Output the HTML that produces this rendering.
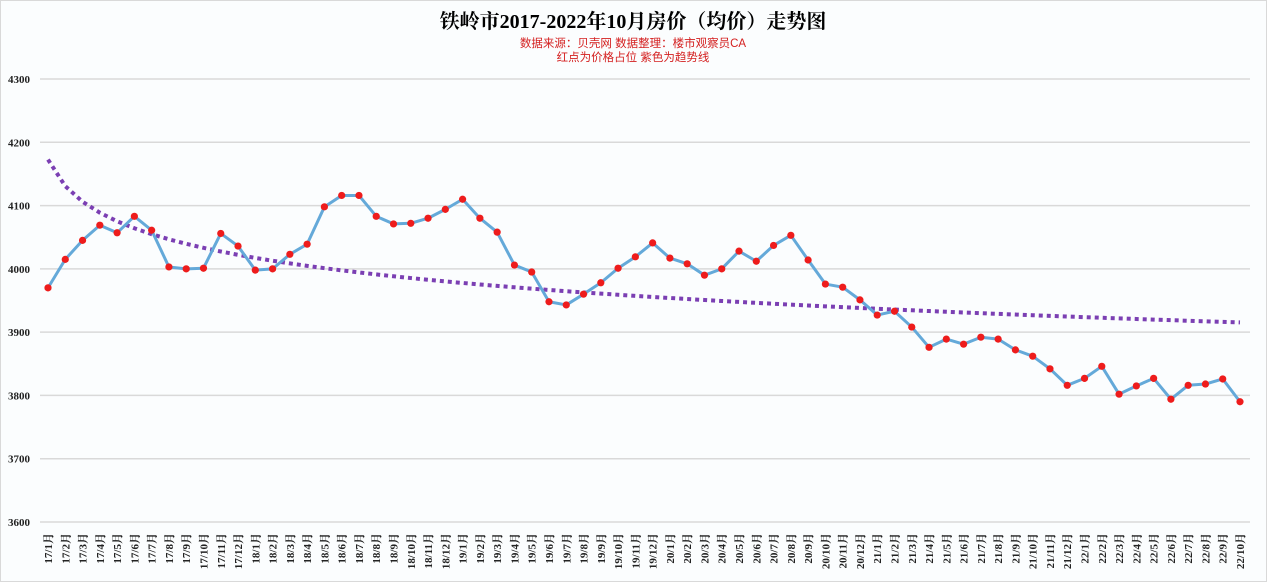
<!DOCTYPE html>
<html><head><meta charset="utf-8"><style>
html,body{margin:0;padding:0;background:#fff}
svg{display:block}
</style></head><body>
<svg id="chart" width="1267" height="582" xmlns="http://www.w3.org/2000/svg">
<rect x="0.5" y="0.5" width="1266" height="581" fill="#fbfdfe" stroke="#d9d9d9"/>
<text x="633" y="28" text-anchor="middle" font-family="'Liberation Serif','Noto Serif CJK SC',serif" font-weight="bold" font-size="20" fill="#000">铁岭市2017-2022年10月房价（均价）走势图</text>
<text x="633" y="47" text-anchor="middle" font-family="'Liberation Sans','Noto Sans CJK SC',sans-serif" font-size="11.5" fill="#d42020">数据来源：贝壳网  数据整理：楼市观察员CA</text>
<text x="633" y="61" text-anchor="middle" font-family="'Liberation Sans','Noto Sans CJK SC',sans-serif" font-size="11.5" fill="#d42020">红点为价格占位   紫色为趋势线</text>
<g id="grid"></g><g id="ylab"></g><g id="xlab"></g><g id="series"></g>
</svg>
<script>
const categories = [];
const years = [17,18,19,20,21,22];
const values = [3970,4015,4045,4069,4057,4083,4061,4003,4000,4001,4056,4036,
3998,4000,4023,4039,4098,4116,4116,4083,4071,4072,4080,4094,
4110,4080,4058,4006,3995,3948,3943,3960,3978,4001,4019,4041,
4017,4008,3990,4000,4028,4012,4037,4053,4014,3976,3971,3951,
3927,3933,3908,3876,3889,3881,3892,3889,3872,3862,3842,3816,
3827,3846,3802,3815,3827,3794,3816,3818,3826,3790];
const yTicks = [3600,3700,3800,3900,4000,4100,4200,4300];
for (const y of years) for (let m=1;m<=12;m++){ if(y===22&&m>10)break; categories.push(y+'/'+m+'月'); }

const NS='http://www.w3.org/2000/svg';
const x0=48,x1=1240,yMin=3600,yMax=4300,py0=522,py1=79;
const xs=i=>x0+(x1-x0)*i/(categories.length-1);
const ys=v=>py0-(v-yMin)/(yMax-yMin)*(py0-py1);
function mk(tag,attrs,parent){const e=document.createElementNS(NS,tag);for(const k in attrs)e.setAttribute(k,attrs[k]);parent.appendChild(e);return e;}
const grid=document.getElementById('grid'),ylab=document.getElementById('ylab'),xlab=document.getElementById('xlab'),ser=document.getElementById('series');
yTicks.forEach(t=>{
  const l=mk('line',{x1:40,x2:1250,y1:ys(t),y2:ys(t),stroke:'#d9d9d9','stroke-width':1.5},grid);
  
  
  const tx=mk('text',{x:8,y:ys(t)+4,'font-family':"'Liberation Serif',serif",'font-size':11,'font-weight':'bold',fill:'#222'},ylab);
  tx.textContent=t;
  
  
});
categories.forEach((c,i)=>{
  const x=xs(i)+4;
  const tx=mk('text',{x:0,y:0,transform:`translate(${x},533) rotate(-90)`,'text-anchor':'end','font-family':"'Liberation Serif','Noto Serif CJK SC',serif",'font-size':11,'font-weight':'bold',fill:'#222'},xlab);
  tx.textContent=c;
  
  
});
// logarithmic trendline fit
let n=values.length,sx=0,sy=0,sxx=0,sxy=0;
values.forEach((v,i)=>{const l=Math.log(i+1);sx+=l;sy+=v;sxx+=l*l;sxy+=l*v;});
const b=(n*sxy-sx*sy)/(n*sxx-sx*sx),a=(sy-b*sx)/n;
let td='';values.forEach((v,i)=>{td+=(i?'L':'M')+xs(i)+','+ys(a+b*Math.log(i+1));});
const trend=mk('path',{d:td,fill:'none',stroke:'#7b3fb3','stroke-width':4,'stroke-dasharray':'4 4'},ser);


let d='';values.forEach((v,i)=>{d+=(i?'L':'M')+xs(i)+','+ys(v);});
const line=mk('path',{d:d,fill:'none',stroke:'#64a9d9','stroke-width':3,'stroke-linejoin':'round'},ser);


values.forEach((v,i)=>{
  const p=mk('circle',{cx:xs(i),cy:ys(v),r:3.6,fill:'#ee1c1c'},ser);
  
  
});
</script>
</body></html>
